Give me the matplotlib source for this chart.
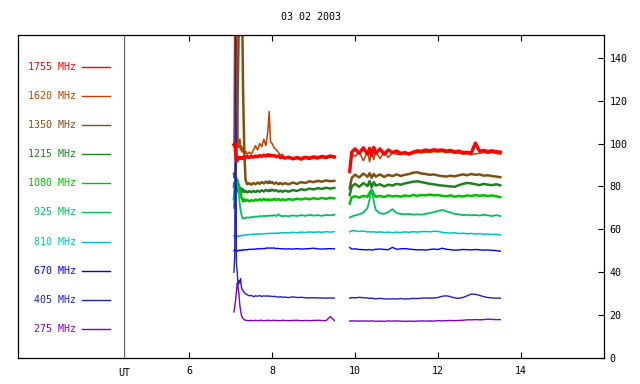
import matplotlib

matplotlib.use("Agg")

import matplotlib.pyplot as plt

plt.rcParams["font.family"] = ["DejaVu Sans Mono", "DejaVu Sans"]
plt.rcParams["font.size"] = 7.2

TITLE = "03 02 2003"

# observing times (UT hours) for the two recording segments
TA = [7.08, 7.10, 7.12, 7.14, 7.16, 7.18, 7.20, 7.22, 7.24, 7.26, 7.28, 7.30,
      7.33, 7.36, 7.40, 7.45, 7.50, 7.55, 7.60, 7.65, 7.70, 7.75, 7.80, 7.85,
      7.90, 7.93, 7.96, 8.00, 8.05, 8.10, 8.15, 8.20, 8.25, 8.30, 8.40, 8.50,
      8.60, 8.70, 8.80, 8.90, 9.00, 9.10, 9.20, 9.30, 9.40, 9.50]
TB = [9.87, 9.92, 10.0, 10.1, 10.2, 10.3, 10.35, 10.4, 10.45, 10.5, 10.6,
      10.7, 10.8, 10.9, 11.0, 11.1, 11.2, 11.3, 11.4, 11.5, 11.6, 11.7, 11.8,
      11.9, 12.0, 12.1, 12.2, 12.3, 12.4, 12.5, 12.6, 12.7, 12.8, 12.9, 13.0,
      13.1, 13.2, 13.3, 13.4, 13.5]

freqs = ["1755 MHz", "1620 MHz", "1350 MHz", "1215 MHz", "1080 MHz",
         "925 MHz", "810 MHz", "670 MHz", "405 MHz", "275 MHz"]
colors = ["#ff0000", "#c04000", "#805010", "#208020", "#00c000",
          "#00c060", "#00c0c0", "#0000ff", "#2020c0", "#8000c0"]

a_1755 = [99.5, 100, 96, 92.5, 92, 93, 93.5, 93, 93.5, 93, 93.5, 93.2,
          93.8, 93.4, 93.9, 93.5, 94.0, 93.6, 94.2, 93.8, 94.4, 94.0, 94.6, 94.1,
          94.8, 94.3, 94.6, 94.2, 94.5, 93.8, 94.2, 93.4, 93.8, 93.2, 93.6, 92.9,
          93.5, 93.0, 93.6, 93.2, 93.8, 93.4, 94.0, 93.6, 94.2, 93.8]
b_1755 = [87, 96, 97.5, 95.5, 98, 95, 97.8, 94.5, 98.2, 95.5, 97.5,
          95.0, 97.0, 95.8, 96.5, 95.4, 95.8, 95.2, 96.0, 96.6, 96.4, 97.0, 96.6,
          97.1, 96.8, 97.0, 96.5, 96.8, 96.2, 96.5, 95.8, 95.9, 95.6, 100.2, 96.4,
          96.8, 96.3, 96.6, 96.2, 96.0]

a_1620 = [99, 160, 160, 160, 125, 101, 98, 102, 97, 99, 96, 98,
          95, 96.5, 95, 96, 95, 97, 99, 97, 100, 98.5, 102, 99,
          106, 115, 101, 100, 98, 97, 96, 94.5, 95, 93, 93.5, 92.5,
          93, 92.2, 93, 92.6, 93.2, 92.8, 93.4, 93.0, 93.6, 93.2]
b_1620 = [88, 95, 94, 96, 92, 96.5, 91.5, 96, 92.5, 96, 93,
          96, 93.5, 95.5, 95.0, 94.8, 95.2, 94.6, 95.4, 95.8, 95.6, 96.0, 95.8,
          96.2, 96.0, 96.2, 95.8, 96.0, 95.4, 95.6, 95.0, 95.2, 94.8, 95.2, 95.4,
          95.8, 95.4, 95.8, 95.4, 95.0]

a_1350 = [86, 84, 88, 95, 110, 135, 160, 160, 160, 160, 160, 125,
          96, 83, 81, 81.5, 80.8, 81.6, 81.0, 81.8, 81.2, 82.0, 81.4, 82.2,
          81.5, 82.4, 81.6, 82.0, 81.2, 81.8, 81.0, 81.6, 81.0, 81.5, 81.0, 81.8,
          81.2, 82.0, 81.6, 82.4, 82.0, 82.6, 82.2, 82.8, 82.4, 82.6]
b_1350 = [79, 84, 85.5, 84.2, 86.0, 84.5, 86.2, 84.0, 85.8, 84.6, 85.6,
          84.4, 85.4, 84.8, 85.6, 84.9, 85.4, 85.8, 86.4, 86.6, 86.0, 85.8, 85.4,
          85.6, 85.1, 84.8, 84.6, 85.0, 84.7, 85.2, 85.6, 85.2, 85.8, 85.4, 85.6,
          85.0, 85.2, 84.8, 84.6, 84.3]

a_1215 = [80, 82, 79, 81, 78, 80, 77, 79.5, 78, 79, 77.5, 78.5,
          77.5, 78, 77.2, 77.8, 77.3, 77.9, 77.4, 78.0, 77.5, 78.2, 77.6, 78.4,
          77.8, 78.3, 77.9, 78.5, 77.9, 78.3, 77.6, 78.0, 77.5, 78.0, 77.6, 78.3,
          77.9, 78.7, 78.3, 79.0, 78.6, 79.2, 78.8, 79.4, 79.0, 79.3]
b_1215 = [76, 80, 81.2, 79.8, 81.6, 80.2, 82.5, 79.6, 82.0, 80.4, 81.0,
          80.0, 80.8, 80.4, 81.2, 80.8, 81.4, 81.8, 82.2, 82.4, 82.0, 81.6, 81.2,
          81.0, 80.6, 80.4, 80.2, 80.0, 79.8, 80.6, 81.2, 81.6, 81.4, 81.0, 80.6,
          81.2, 80.8, 80.6, 81.0, 80.5]

a_1080 = [74, 79, 84, 80, 83, 79, 81, 77, 78, 75, 74, 73,
          74, 73.2, 73.8, 73.0, 73.6, 73.2, 73.9, 73.4, 74.0, 73.5, 74.2, 73.6,
          74.0, 73.4, 73.9, 73.6, 74.2, 73.7, 74.1, 73.5, 74.0, 73.6, 74.1, 73.7,
          74.3, 73.9, 74.4, 74.0, 74.5, 74.1, 74.6, 74.2, 74.7, 74.4]
b_1080 = [72, 75, 75.4, 74.8, 75.6, 75.2, 77.0, 78.5, 76.5, 75.2, 75.6,
          75.0, 75.8, 75.3, 75.6, 75.2, 75.8, 75.4, 76.0, 75.6, 76.0, 75.8, 76.2,
          75.8, 76.0, 75.6, 75.4, 75.8, 75.2, 75.6, 75.3, 75.8, 75.5, 76.0, 75.6,
          75.9, 75.5, 75.8, 75.4, 75.0]

a_925 = [70, 76, 80, 84, 82, 79, 76, 72, 69, 67, 65.5, 65,
         65.3, 65.2, 65.6, 65.4, 65.8, 65.6, 66.0, 65.8, 66.2, 66.0, 66.3, 66.1,
         66.4, 66.2, 66.5, 66.3, 66.6, 66.2, 67.0, 66.4, 66.0, 66.3, 66.1, 66.5,
         66.2, 66.6, 66.3, 66.7, 66.4, 66.6, 66.3, 66.7, 66.5, 66.8]
b_925 = [65.5, 66, 66.5, 67.0, 67.8, 70, 74, 78.5, 73, 69, 67.5,
         67.2, 68.0, 69.4, 67.6, 67.2, 67.0, 67.2, 66.8, 67.0, 66.8, 67.2, 67.6,
         68.0, 68.6, 69.0, 68.4, 67.8, 67.2, 67.0, 66.6, 66.8, 66.5, 66.7, 66.4,
         66.8, 66.5, 66.2, 66.6, 66.2]

a_810 = [57, 57.2, 56.6, 56.4, 56.8, 56.6, 57.0, 56.8, 57.0, 57.2, 57.0, 57.3,
         57.2, 57.5, 57.3, 57.6, 57.5, 57.8, 57.6, 57.9, 57.7, 58.0, 57.8, 58.1,
         57.9, 58.2, 58.0, 58.2, 58.0, 58.3, 58.1, 58.4, 58.2, 58.5, 58.3, 58.6,
         58.4, 58.7, 58.5, 58.8, 58.6, 58.8, 58.6, 58.9, 58.7, 58.9]
b_810 = [58.8, 59.3, 59.3, 59.0, 59.2, 58.8, 58.9, 58.7, 58.9, 58.6, 58.8,
         58.5, 58.7, 58.4, 58.7, 58.5, 58.8, 58.6, 58.9, 58.7, 58.9, 59.0, 58.8,
         59.1, 59.0, 58.6, 58.4, 58.2, 58.4, 58.0, 58.2, 57.9, 58.1, 57.8, 58.0,
         57.7, 57.8, 57.6, 57.7, 57.4]

a_670 = [50.0, 50.6, 50.2, 50.0, 49.8, 50.2, 50.0, 50.3, 50.1, 50.4, 50.2, 50.5,
         50.3, 50.6, 50.4, 50.7, 50.6, 50.8, 50.7, 51.0, 50.8, 51.1, 50.9, 51.2,
         51.3, 51.2, 51.3, 51.2, 51.3, 51.0, 51.1, 50.9, 51.0, 50.8, 50.9, 50.8,
         51.0, 50.8, 50.9, 51.0, 51.2, 50.9, 50.8, 50.9, 51.0, 50.9]
b_670 = [51.5, 50.8, 50.9, 50.6, 50.5, 50.4, 50.6, 50.3, 50.5, 50.7, 50.8,
         50.6, 50.5, 51.6, 50.7, 50.9, 51.0, 50.8, 50.6, 50.4, 50.5, 50.3, 50.6,
         50.8, 50.6, 51.2, 50.7, 50.5, 50.3, 50.4, 50.6, 50.5, 50.4, 50.6, 50.4,
         50.3, 50.4, 50.2, 50.1, 49.8]

a_405 = [40, 48, 160, 44, 40, 34, 36, 35, 37, 33, 32, 31.5,
         30.5, 30, 29.5, 29.0, 29.2, 28.6, 29.0, 28.8, 29.1, 28.7, 29.0, 28.8,
         29.0, 28.7, 28.9, 28.6, 28.8, 28.5, 28.4, 28.6, 28.3, 28.4, 28.2, 28.5,
         28.2, 28.3, 28.1, 28.0, 28.1, 28.0, 28.0, 27.9, 28.0, 27.9]
b_405 = [27.9, 28.2, 28.0, 28.3, 28.1, 28.0, 27.8, 27.9, 27.7, 27.6, 27.8,
         27.6, 27.5, 27.6, 27.5, 27.7, 27.5, 27.6, 27.8, 27.7, 27.9, 28.0, 27.9,
         28.0, 28.2, 28.8, 29.0, 28.6, 28.0, 27.8, 28.2, 29.0, 29.8, 29.7, 29.2,
         28.6, 28.2, 28.0, 27.9, 27.9]

a_275 = [21.5, 24, 27, 31, 35, 33, 30, 25, 22, 20, 19, 18.5,
         17.8, 17.6, 17.5, 17.4, 17.5, 17.4, 17.6, 17.4, 17.5, 17.6, 17.4, 17.5,
         17.6, 17.5, 17.4, 17.5, 17.6, 17.4, 17.5, 17.4, 17.6, 17.5, 17.4, 17.5,
         17.6, 17.4, 17.5, 17.4, 17.5, 17.6, 17.5, 17.4, 19.3, 17.5]
b_275 = [17.2, 17.3, 17.3, 17.2, 17.3, 17.2, 17.2, 17.3, 17.2, 17.1, 17.2,
         17.1, 17.3, 17.2, 17.3, 17.2, 17.1, 17.2, 17.1, 17.2, 17.3, 17.2, 17.3,
         17.2, 17.4, 17.3, 17.4, 17.5, 17.4, 17.5, 17.6, 17.8, 17.8, 17.9, 17.8,
         17.9, 18.1, 18.0, 17.9, 17.9]

seg_a = [a_1755, a_1620, a_1350, a_1215, a_1080, a_925, a_810, a_670, a_405, a_275]
seg_b = [b_1755, b_1620, b_1350, b_1215, b_1080, b_925, b_810, b_670, b_405, b_275]
widths = [2.4, 1.1, 1.8, 1.8, 1.8, 1.3, 1.1, 1.0, 1.0, 1.0]

W, H = 640, 384
fig = plt.figure(figsize=(W / 100, H / 100), dpi=100)


def frac(x0, y0, x1, y1):
    return [x0 / W, 1 - y1 / H, (x1 - x0) / W, (y1 - y0) / H]


ax = fig.add_axes(frac(124, 35, 604, 358))
leg = fig.add_axes(frac(18, 35, 124, 358))

# draw in an order that keeps red on top
order = [1, 2, 3, 4, 5, 6, 7, 8, 9, 0]
for i in order:
    ax.plot(TA, seg_a[i], color=colors[i], lw=widths[i])
    ax.plot(TB, seg_b[i], color=colors[i], lw=widths[i])

ax.set_xlim(4.43, 16.0)
ax.set_ylim(0, 150.6)
ax.set_xticks([6, 8, 10, 12, 14])
ax.set_yticks([0, 20, 40, 60, 80, 100, 120, 140])
ax.tick_params(axis="x", direction="in", top=True, bottom=True, length=4, width=0.8, pad=6)
ax.tick_params(axis="y", direction="in", left=False, right=True, labelleft=False,
               labelright=True, length=4, width=0.8, pad=4)
for side in ["top", "right", "bottom"]:
    ax.spines[side].set_linewidth(0.9)
ax.spines["left"].set_color("#606060")
ax.spines["left"].set_linewidth(0.9)
ax.text(0, -0.03, "UT", transform=ax.transAxes, ha="center", va="top")

# legend panel in pixel-like coordinates
leg.set_xlim(18, 124)
leg.set_ylim(358, 35)
leg.set_xticks([])
leg.set_yticks([])
leg.spines["right"].set_visible(False)
for side in ["top", "left", "bottom"]:
    leg.spines[side].set_linewidth(0.9)
for k, (name, c) in enumerate(zip(freqs, colors)):
    row = 67 + 29.1 * k
    leg.text(75.5, row, name, color=c, ha="right", va="center")
    leg.plot([82, 110], [row, row], color=c, lw=1.0)

fig.text(311 / W, 1 - 17 / H, TITLE, ha="center", va="center")

fig.savefig("out.png", dpi=100)
